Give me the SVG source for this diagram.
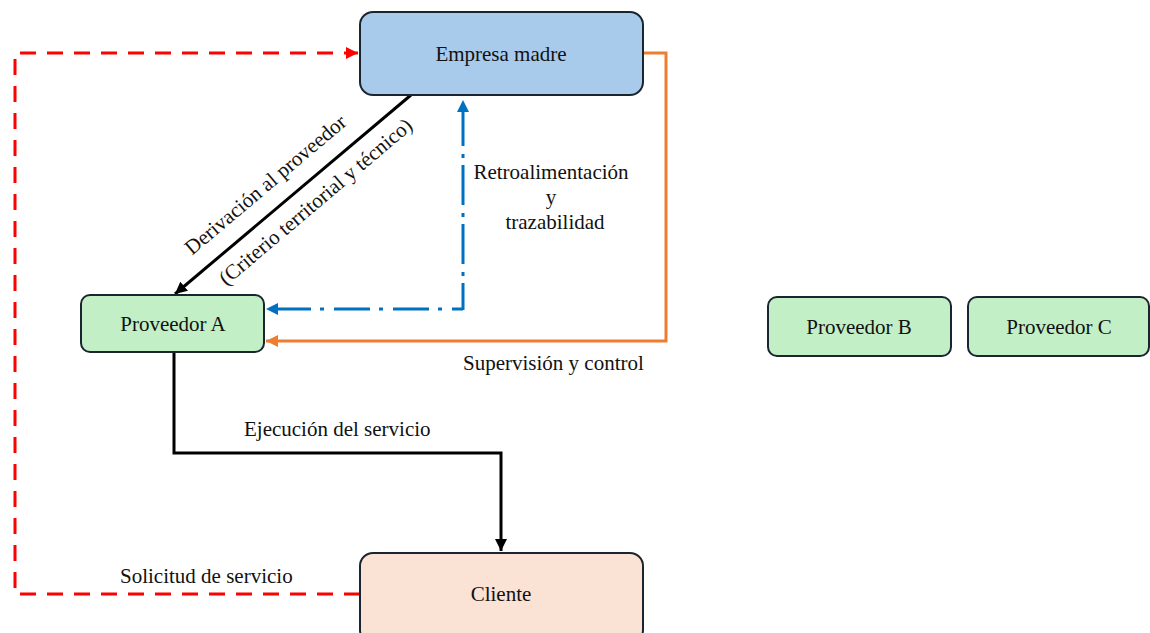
<svg xmlns="http://www.w3.org/2000/svg" width="1150" height="633" viewBox="0 0 1150 633">
  <style>
    .node { stroke: #1b2530; stroke-width: 2; }
    .lbl { font-family: "Liberation Serif", "Times New Roman", serif; font-size: 21px; fill: #111; }
    .mid { text-anchor: middle; }
    .conn { fill: none; stroke-width: 3; }
  </style>
  <defs>
    <marker id="ah-black" markerUnits="userSpaceOnUse" markerWidth="14" markerHeight="12" refX="12" refY="6" orient="auto">
      <path d="M0,0 L12,6 L0,12 z" fill="#000"/>
    </marker>
    <marker id="ah-red" markerUnits="userSpaceOnUse" markerWidth="14" markerHeight="12" refX="12" refY="6" orient="auto">
      <path d="M0,0 L12,6 L0,12 z" fill="#ff0000"/>
    </marker>
    <marker id="ah-blue" markerUnits="userSpaceOnUse" markerWidth="14" markerHeight="12" refX="12" refY="6" orient="auto">
      <path d="M0,0 L12,6 L0,12 z" fill="#0070c0"/>
    </marker>
    <marker id="ah-orange" markerUnits="userSpaceOnUse" markerWidth="14" markerHeight="12" refX="12" refY="6" orient="auto">
      <path d="M0,0 L12,6 L0,12 z" fill="#ed7d31"/>
    </marker>
  </defs>

  <rect width="1150" height="633" fill="#ffffff"/>

  <g id="connectors">
    <!-- Solicitud de servicio: Cliente -> Empresa madre -->
    <path class="conn" d="M360,594 H15 V53 H358" stroke="#ff0000" stroke-dasharray="16 11" marker-end="url(#ah-red)"/>
    <!-- Derivación al proveedor -->
    <path class="conn" d="M411,95 L175,294" stroke="#000" marker-end="url(#ah-black)"/>
    <!-- Retroalimentación y trazabilidad: two arrows from the shared corner -->
    <path class="conn" d="M463,309 H266" stroke="#0070c0" stroke-dasharray="36 10 4 9" stroke-dashoffset="25" marker-end="url(#ah-blue)"/>
    <path class="conn" d="M463,310 V100" stroke="#0070c0" stroke-dasharray="40 7 4 8" stroke-dashoffset="13" marker-end="url(#ah-blue)"/>
    <!-- Supervisión y control -->
    <path class="conn" d="M643,53 H666 V341 H266" stroke="#ed7d31" marker-end="url(#ah-orange)"/>
    <!-- Ejecución del servicio -->
    <path class="conn" d="M174,352 V453 H501 V551" stroke="#000" marker-end="url(#ah-black)"/>

    <text class="lbl mid" x="551" y="179">Retroalimentación</text>
    <text class="lbl mid" x="551" y="204">y</text>
    <text class="lbl mid" x="555" y="229">trazabilidad</text>
    <text class="lbl" x="463" y="370">Supervisión y control</text>
    <text class="lbl" x="244" y="436">Ejecución del servicio</text>
    <text class="lbl" x="120" y="583">Solicitud de servicio</text>
    <text class="lbl mid" transform="translate(270,190) rotate(-40.2)">Derivación al proveedor</text>
    <text class="lbl mid" transform="translate(320,207) rotate(-40.2)">(Criterio territorial y técnico)</text>
  </g>

  <g id="empresa-madre">
    <rect class="node" x="360" y="12" width="283" height="83" rx="13" fill="#a8caeb"/>
    <text class="lbl mid" x="501" y="61">Empresa madre</text>
  </g>

  <g id="proveedor-a">
    <rect class="node" x="81" y="295" width="183" height="57" rx="9" fill="#c2efc6"/>
    <text class="lbl mid" x="173" y="331">Proveedor A</text>
  </g>

  <g id="proveedor-b">
    <rect class="node" x="768" y="297" width="183" height="59" rx="9" fill="#c2efc6"/>
    <text class="lbl mid" x="859" y="334">Proveedor B</text>
  </g>

  <g id="proveedor-c">
    <rect class="node" x="968" y="297" width="181" height="59" rx="9" fill="#c2efc6"/>
    <text class="lbl mid" x="1059" y="334">Proveedor C</text>
  </g>

  <g id="cliente">
    <rect class="node" x="360" y="553" width="283" height="90" rx="13" fill="#fae2d5"/>
    <text class="lbl mid" x="501" y="601">Cliente</text>
  </g>
</svg>
